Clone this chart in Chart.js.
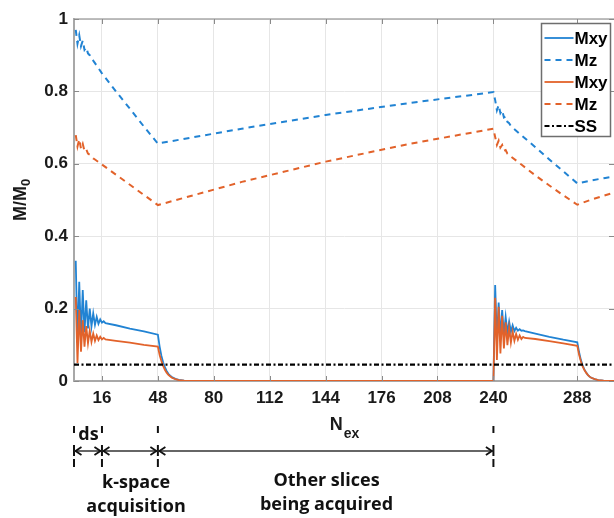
<!DOCTYPE html>
<html><head><meta charset="utf-8">
<script src="https://cdn.jsdelivr.net/npm/chart.js@4.4.0/dist/chart.umd.min.js"></script>
<style>html,body{margin:0;padding:0;background:#fff}</style>
</head><body><canvas id="c" width="614" height="518"></canvas>
<script>
// ---- data ----
const nMxy = [1,2,3,4,5,6,7,8,9,10,11,12,13,14,15,16,17,18,24,32,40,48,49,50,51,52,53,54,55,56,58,60,63,66,70,
  120,180,240,
  241,242,243,244,245,246,247,248,249,250,251,252,253,254,255,256,257,258,264,272,280,288,289,290,291,292,293,294,295,296,298,300,303,306,310];
const mxyBlue = [0.332,0.105,0.274,0.122,0.251,0.135,0.223,0.145,0.200,0.151,0.187,0.155,0.177,0.158,0.170,0.161,0.165,0.160,0.154,0.145,0.137,0.128,0.095,0.070,0.052,0.038,0.028,0.020,0.015,0.011,0.006,0.003,0.001,0.0003,0,
  0,0,0,
  0.265,0.110,0.217,0.120,0.196,0.128,0.177,0.133,0.164,0.136,0.154,0.138,0.147,0.139,0.143,0.139,0.140,0.138,0.131,0.122,0.114,0.107,0.080,0.059,0.044,0.032,0.024,0.017,0.012,0.009,0.005,0.0025,0.001,0.0003,0];
const mxyOrange = [0.232,0.050,0.196,0.081,0.168,0.095,0.152,0.104,0.139,0.108,0.131,0.111,0.126,0.113,0.122,0.115,0.119,0.115,0.111,0.106,0.100,0.095,0.072,0.055,0.042,0.031,0.023,0.017,0.013,0.009,0.005,0.0025,0.001,0.0003,0,
  0,0,0,
  0.230,0.058,0.205,0.076,0.180,0.090,0.162,0.099,0.147,0.106,0.137,0.111,0.130,0.114,0.126,0.116,0.122,0.119,0.116,0.110,0.104,0.097,0.073,0.055,0.041,0.031,0.023,0.017,0.012,0.009,0.005,0.0025,0.001,0.0003,0];
const nMz = [1,2,3,4,5,6,7,8,9,10,11,12,16,24,32,40,48,96,144,192,240,241,242,243,244,245,246,247,248,249,250,256,264,272,280,288,296,304,310];
const mzBlue = [0.970,0.932,0.955,0.925,0.940,0.915,0.922,0.905,0.900,0.890,0.885,0.878,0.850,0.800,0.752,0.703,0.656,0.697,0.735,0.768,0.798,
  0.776,0.748,0.762,0.740,0.748,0.728,0.731,0.716,0.712,0.704,0.679,0.646,0.612,0.579,0.546,0.554,0.561,0.566];
const mzOrange = [0.679,0.648,0.668,0.642,0.655,0.635,0.640,0.628,0.625,0.620,0.615,0.612,0.598,0.570,0.542,0.514,0.486,0.550,0.606,0.655,0.697,
  0.674,0.652,0.664,0.645,0.652,0.636,0.638,0.628,0.624,0.620,0.598,0.568,0.540,0.513,0.487,0.501,0.513,0.522];
const nSS = [0, 310];
const ssVal = [0.045, 0.045];
const xTicks = [16,48,80,112,144,176,208,240,288];
const yTickLabels = ['0','0.2','0.4','0.6','0.8','1'];
const legendLabels = ['Mxy','Mz','Mxy','Mz','SS'];
const phaseMarks = [0,16,48,240];
const phaseText = [
  {n:8.3, lines:['ds']},
  {n:35.5, lines:['k-space','acquisition']},
  {n:144.5, lines:['Other slices','being acquired']}
];

const BLUE = '#2183d3', ORANGE = '#e2622a';
const FONT = "'Liberation Sans', Arial, sans-serif";
const AFONT = "'Open Sans', 'Liberation Sans', sans-serif";
const mk = (xs, ys) => xs.map((v, i) => ({x: v, y: ys[i]}));

const deco = {
  id: 'deco',
  afterDraw(chart) {
    const {ctx, chartArea: a, scales: {x, y}} = chart;
    const seg = (x1, y1, x2, y2) => { ctx.beginPath(); ctx.moveTo(x1, y1); ctx.lineTo(x2, y2); ctx.stroke(); };
    ctx.save();
    // top border
    ctx.strokeStyle = '#a8a8a8'; ctx.lineWidth = 1.5;
    seg(a.left, a.top, a.right, a.top);
    // inward ticks
    ctx.strokeStyle = '#8a8a8a'; ctx.lineWidth = 1;
    xTicks.forEach(v => {
      const px = Math.round(x.getPixelForValue(v)) + 0.5;
      seg(px, a.bottom, px, a.bottom - 5);
      seg(px, a.top, px, a.top + 5);
    });
    y.ticks.forEach(t => {
      const py = Math.round(y.getPixelForValue(t.value)) + 0.5;
      seg(a.left, py, a.left + 5, py);
      seg(a.right, py, a.right - 5, py);
    });

    // legend
    const lr = a.right - 3.5, lt = a.top + 4.5, lw = 69, lh = 113;
    ctx.fillStyle = '#fff';
    ctx.fillRect(lr - lw, lt, lw, lh);
    ctx.strokeStyle = '#6e6e6e'; ctx.lineWidth = 1.5;
    ctx.strokeRect(lr - lw, lt, lw, lh);
    ctx.font = 'bold 17px ' + FONT;
    ctx.textBaseline = 'middle'; ctx.textAlign = 'left';
    chart.data.datasets.forEach((ds, i) => {
      const yy = lt + 14.5 + i * 22;
      ctx.strokeStyle = ds.borderColor; ctx.lineWidth = ds.borderWidth;
      ctx.setLineDash(ds.borderDash || []);
      seg(lr - lw + 3, yy, lr - lw + 32, yy);
      ctx.setLineDash([]);
      ctx.fillStyle = '#000';
      ctx.fillText(ds.label, lr - lw + 33, yy + 1);
    });

    // y axis title M/M0
    ctx.save();
    ctx.translate(26, (a.top + a.bottom) / 2 + 21);
    ctx.rotate(-Math.PI / 2);
    ctx.fillStyle = '#1a1a1a';
    ctx.textBaseline = 'alphabetic'; ctx.textAlign = 'left';
    ctx.font = 'bold 18px ' + FONT;
    ctx.fillText('M/M', 0, 0);
    const wM = ctx.measureText('M/M').width;
    ctx.font = 'bold 13px ' + FONT;
    ctx.fillText('0', wM, 4);
    ctx.restore();

    // x axis title N_ex
    ctx.font = 'bold 18px ' + FONT;
    const wN = ctx.measureText('N').width;
    ctx.font = 'bold 14px ' + FONT;
    const wE = ctx.measureText('ex').width;
    const cx = (a.left + a.right) / 2 - (wN + wE) / 2;
    ctx.fillStyle = '#1a1a1a'; ctx.textBaseline = 'alphabetic'; ctx.textAlign = 'left';
    ctx.font = 'bold 18px ' + FONT;
    ctx.fillText('N', cx, 430);
    ctx.font = 'bold 14px ' + FONT;
    ctx.fillText('ex', cx + wN + 1, 438);

    // phase annotations
    const yTop = 426, yBot = 467, yArr = 451;
    ctx.strokeStyle = '#111'; ctx.lineWidth = 2;
    phaseMarks.forEach(n => {
      const px = x.getPixelForValue(n);
      seg(px, yTop, px, yTop + 7);
      seg(px, yArr - 6, px, yArr + 5);
      seg(px, yBot - 8, px, yBot);
    });
    ctx.strokeStyle = '#333'; ctx.lineWidth = 1.3;
    seg(x.getPixelForValue(phaseMarks[0]), yArr, x.getPixelForValue(phaseMarks[phaseMarks.length - 1]), yArr);
    ctx.strokeStyle = '#111'; ctx.lineWidth = 1.8;
    for (let i = 0; i < phaseMarks.length - 1; i++) {
      const p1 = x.getPixelForValue(phaseMarks[i]) + 1.5, p2 = x.getPixelForValue(phaseMarks[i + 1]) - 1.5;
      ctx.beginPath(); ctx.moveTo(p1 + 6, yArr - 4); ctx.lineTo(p1, yArr); ctx.lineTo(p1 + 6, yArr + 4); ctx.stroke();
      ctx.beginPath(); ctx.moveTo(p2 - 6, yArr - 4); ctx.lineTo(p2, yArr); ctx.lineTo(p2 - 6, yArr + 4); ctx.stroke();
    }
    ctx.fillStyle = '#111'; ctx.textAlign = 'center'; ctx.textBaseline = 'middle';
    ctx.font = 'bold 18px ' + AFONT;
    phaseText.forEach((p, k) => {
      const px = x.getPixelForValue(p.n);
      if (k === 0) { ctx.fillText(p.lines[0], px, 435); return; }
      const y0 = k === 1 ? 483 : 481;
      p.lines.forEach((t, j) => ctx.fillText(t, px, y0 + j * 23.5));
    });
    ctx.restore();
  }
};

new Chart(document.getElementById('c'), {
  type: 'line',
  data: {datasets: [
    {label: legendLabels[0], data: mk(nMxy, mxyBlue), borderColor: BLUE, borderWidth: 1.8, order: 5},
    {label: legendLabels[1], data: mk(nMz, mzBlue), borderColor: BLUE, borderWidth: 2, borderDash: [6, 5], order: 4},
    {label: legendLabels[2], data: mk(nMxy, mxyOrange), borderColor: ORANGE, borderWidth: 1.8, order: 3},
    {label: legendLabels[3], data: mk(nMz, mzOrange), borderColor: ORANGE, borderWidth: 2, borderDash: [6, 5], order: 2},
    {label: legendLabels[4], data: mk(nSS, ssVal), borderColor: '#000', borderWidth: 2.2, borderDash: [5, 2.5, 2, 2.5], order: 1}
  ]},
  options: {
    responsive: false, animation: false, devicePixelRatio: 1,
    layout: {padding: {top: 19, right: 0, left: 0, bottom: 0}},
    elements: {point: {radius: 0, hoverRadius: 0}, line: {tension: 0, fill: false}},
    plugins: {legend: {display: false}, tooltip: {enabled: false}},
    scales: {
      x: {
        type: 'linear', min: 0, max: 309,
        afterBuildTicks: s => { s.ticks = xTicks.map(v => ({value: v})); },
        afterFit: s => { s.height = 137; },
        ticks: {autoSkip: false, maxRotation: 0, padding: 7, color: '#1a1a1a',
          font: {family: FONT, size: 17, weight: 'bold'}, callback: v => String(v)},
        grid: {color: '#e6e6e6', lineWidth: 1, drawTicks: false},
        border: {color: '#a8a8a8', width: 2}
      },
      y: {
        min: 0, max: 1,
        afterFit: s => { s.width = 74; },
        ticks: {stepSize: 0.2, padding: 6, color: '#1a1a1a',
          font: {family: FONT, size: 17, weight: 'bold'}, callback: (v, i) => yTickLabels[i]},
        grid: {color: '#e6e6e6', lineWidth: 1, drawTicks: false},
        border: {color: '#a8a8a8', width: 2}
      }
    }
  },
  plugins: [deco]
});
</script></body></html>
